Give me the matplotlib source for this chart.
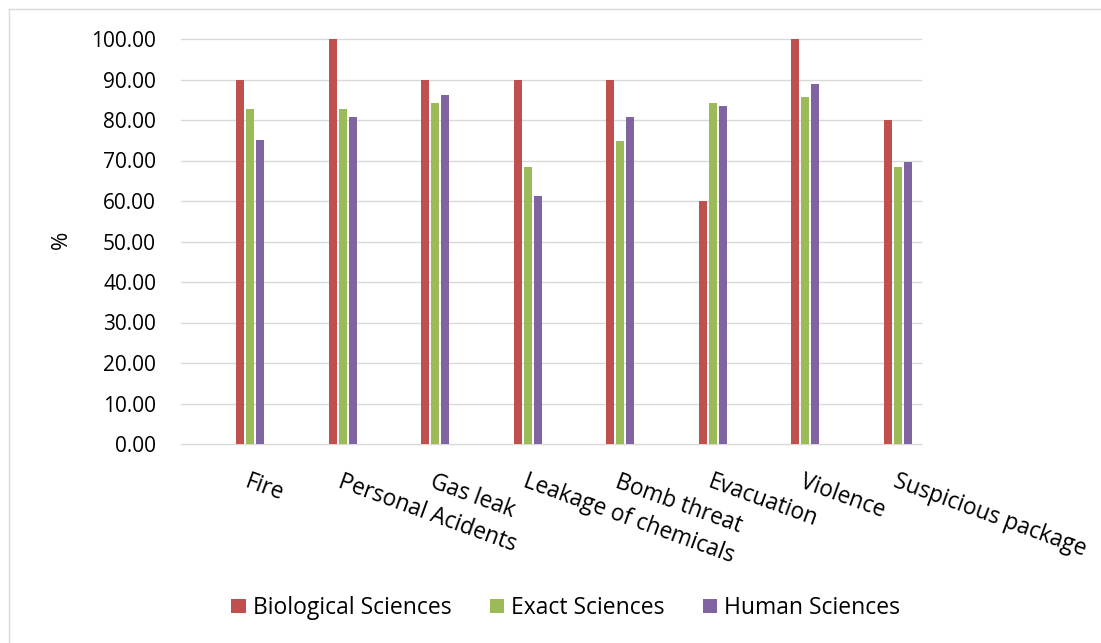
import matplotlib
matplotlib.use("Agg")
import matplotlib.pyplot as plt
from matplotlib.patches import Patch
from matplotlib.lines import Line2D
from matplotlib.transforms import ScaledTranslation
import numpy as np

plt.rcParams['font.family'] = ['Open Sans', 'DejaVu Sans']

categories = ["Fire", "Personal Acidents", "Gas leak", "Leakage of chemicals",
              "Bomb threat", "Evacuation", "Violence", "Suspicious package"]
series_names = ["Biological Sciences", "Exact Sciences", "Human Sciences"]
biological = [90.0, 100.0, 90.0, 90.0, 90.0, 60.0, 100.0, 80.0]
exact = [82.6, 82.6, 84.2, 68.4, 74.7, 84.2, 85.8, 68.4]
human = [75.0, 80.7, 86.2, 61.2, 80.7, 83.4, 89.0, 69.6]
yticks = [0, 10, 20, 30, 40, 50, 60, 70, 80, 90, 100]

colors = ["#c0504d", "#9bbb59", "#8064a2"]
W, H, DPI = 1101, 643, 100
fig = plt.figure(figsize=(W / DPI, H / DPI), dpi=DPI)
fig.patch.set_facecolor("white")

# chart frame (top and left edges visible)
fig.add_artist(Line2D([9 / W, 9 / W], [0, 1 - 9 / H], transform=fig.transFigure,
                      color="#d9d9d9", lw=1.0))
fig.add_artist(Line2D([9 / W, 1], [1 - 9 / H, 1 - 9 / H], transform=fig.transFigure,
                      color="#d9d9d9", lw=1.0))

ax = fig.add_axes([181 / W, (H - 444) / H, 740 / W, 405 / H])
x = np.arange(len(categories))
bar_w = 0.086
step = 0.108
for k, (vals, c) in enumerate(zip([biological, exact, human], colors)):
    ax.bar(x + 0.25 + (k - 1) * step, vals, width=bar_w, color=c, zorder=3)

ax.set_xlim(-0.5, len(categories) - 0.5)
ax.set_ylim(0, 100)
ax.set_yticks(yticks)
ax.set_yticklabels([f"{v:.2f}" for v in yticks], fontsize=15, color="#000000")
ax.yaxis.grid(True, color="#d9d9d9", lw=1.0, zorder=0)
for gl in ax.get_ygridlines():
    gl.set_clip_on(False)
for s in ax.spines.values():
    s.set_visible(False)
ax.tick_params(axis="y", length=0, pad=18)
ax.tick_params(axis="x", length=0, pad=18.5)

ax.set_xticks(x)
ax.set_xticklabels(categories, fontsize=16.3, rotation=-20, ha="left",
                   rotation_mode="anchor", va="top")
shift = ScaledTranslation(23 / DPI, 0, fig.dpi_scale_trans)
for lbl in ax.get_xticklabels():
    lbl.set_transform(lbl.get_transform() + shift)

ax.set_ylabel("%", fontsize=16, va="center", rotation=90)
ax.yaxis.set_label_coords(-0.161, 0.505)

handles = [Patch(facecolor=c, edgecolor="none") for c in colors]
fig.legend(handles, series_names, loc="center", bbox_to_anchor=(0.514, 1 - 608 / H),
           ncol=3, frameon=False, fontsize=16.5, handlelength=0.62, handleheight=0.6,
           handletextpad=0.33, columnspacing=1.65)

fig.savefig("out.png", dpi=DPI, facecolor="white")
